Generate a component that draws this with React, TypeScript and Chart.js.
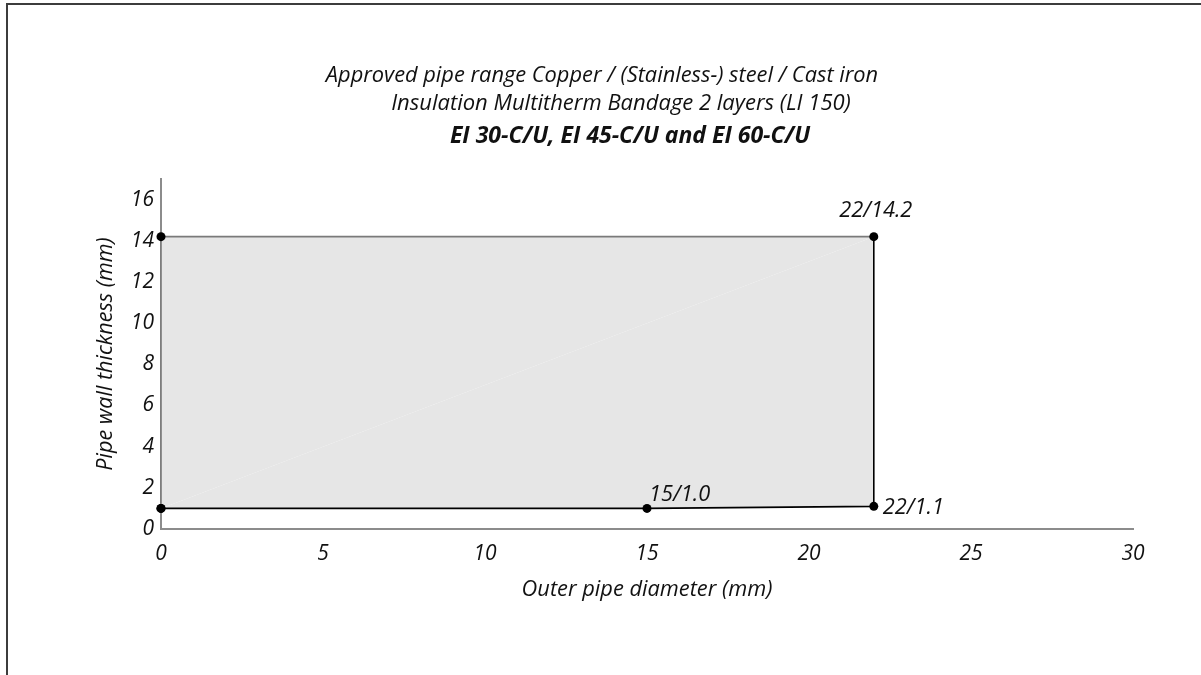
import React, { useEffect, useRef } from 'react';
import { Chart, registerables } from 'chart.js';

Chart.register(...registerables);

const titleLines = [
  'Approved pipe range Copper / (Stainless-) steel / Cast iron',
  'Insulation Multitherm Bandage 2 layers (LI 150)',
  'EI 30-C/U, EI 45-C/U and EI 60-C/U',
];
const xTitle = 'Outer pipe diameter (mm)';
const yTitle = 'Pipe wall thickness (mm)';

// approved range polygon (outer diameter mm / wall thickness mm)
const rangeX = [0, 15, 22, 22, 0, 0];
const rangeY = [1.0, 1.0, 1.1, 14.2, 14.2, 1.0];
const pointLabels = ['', '15/1.0', '22/1.1', '22/14.2', '', ''];

const xTicks = [0, 5, 10, 15, 20, 25, 30];
const yTicks = [0, 2, 4, 6, 8, 10, 12, 14, 16];

const FONT = '"Open Sans", "Noto Sans", sans-serif';
const TEXT = '#111111';

const overlayPlugin = {
  id: 'overlay',
  afterDraw(chart: any) {
    const { ctx, chartArea, scales } = chart;
    const xs = scales.x;
    const ys = scales.y;
    ctx.save();
    ctx.fillStyle = TEXT;
    ctx.textBaseline = 'middle';
    ctx.textAlign = 'center';
    // titles
    const titleFonts = [
      `italic 400 21.8px ${FONT}`,
      `italic 400 22px ${FONT}`,
      `italic 700 23px ${FONT}`,
    ];
    const titleX = [602, 621, 630];
    const titleY = [76, 104, 136];
    titleLines.forEach((t, i) => {
      ctx.font = titleFonts[i];
      ctx.fillText(t, titleX[i], titleY[i]);
    });
    // axis titles
    ctx.font = `italic 400 21.8px ${FONT}`;
    ctx.fillText(xTitle, (chartArea.left + chartArea.right) / 2, 590);
    ctx.save();
    ctx.translate(106, (chartArea.top + chartArea.bottom) / 2);
    ctx.rotate(-Math.PI / 2);
    ctx.font = `italic 400 21.6px ${FONT}`;
    ctx.fillText(yTitle, 0, 0);
    ctx.restore();
    // point labels
    ctx.font = `italic 400 21.8px ${FONT}`;
    pointLabels.forEach((lab, i) => {
      if (!lab) return;
      const px = xs.getPixelForValue(rangeX[i]);
      const py = ys.getPixelForValue(rangeY[i]);
      if (i === 1) {
        ctx.textAlign = 'left';
        ctx.fillText(lab, px + 2, py - 14);
      } else if (i === 2) {
        ctx.textAlign = 'left';
        ctx.fillText(lab, px + 9, py + 1);
      } else {
        ctx.textAlign = 'center';
        ctx.fillText(lab, px + 2, py - 26);
      }
    });
    ctx.restore();
  },
};

export default function App() {
  const ref = useRef<HTMLCanvasElement | null>(null);
  useEffect(() => {
    if (!ref.current) return;
    const chart = new Chart(ref.current, {
      type: 'scatter',
      data: {
        datasets: [
          {
            data: rangeX.map((x, i) => ({ x, y: rangeY[i] })),
            showLine: true,
            fill: 'shape',
            backgroundColor: '#e6e6e6',
            borderColor: '#000',
            borderWidth: 1.6,
            pointRadius: 4.5,
            pointHoverRadius: 4.5,
            pointBackgroundColor: '#000',
            pointBorderColor: '#000',
            pointBorderWidth: 0,
            clip: false,
            tension: 0,
            segment: {
              borderColor: (c: any) => (c.p0DataIndex >= 3 ? '#7a7a7a' : '#000'),
            },
          } as any,
        ],
      },
      options: {
        responsive: false,
        animation: false,
        events: [],
        layout: { padding: { left: 0, top: 179, right: 68, bottom: 0 } },
        plugins: {
          legend: { display: false },
          tooltip: { enabled: false },
          title: { display: false },
        },
        scales: {
          x: {
            type: 'linear',
            min: 0,
            max: 30,
            afterBuildTicks: (s: any) => {
              s.ticks = xTicks.map((v) => ({ value: v }));
            },
            afterFit: (s: any) => {
              s.height = 146;
            },
            grid: { display: false, drawTicks: false },
            border: { display: true, color: '#8c8c8c', width: 2 },
            ticks: {
              padding: 12,
              color: TEXT,
              font: { family: FONT, size: 21, style: 'italic' },
            },
          },
          y: {
            type: 'linear',
            min: 0,
            max: 17,
            afterBuildTicks: (s: any) => {
              s.ticks = yTicks.map((v) => ({ value: v }));
            },
            afterFit: (s: any) => {
              s.width = 161;
            },
            grid: { display: false, drawTicks: false },
            border: { display: true, color: '#8c8c8c', width: 2 },
            ticks: {
              padding: 7,
              color: TEXT,
              font: { family: FONT, size: 21, style: 'italic' },
            },
          },
        },
      },
      plugins: [overlayPlugin],
    });
    return () => chart.destroy();
  }, []);

  return (
    <div style={{ position: 'absolute', left: 0, top: 0, width: 1201, height: 675, background: '#fff', overflow: 'hidden' }}>
      <div
        style={{
          position: 'absolute',
          left: 6,
          top: 3,
          width: 1300,
          height: 800,
          borderLeft: '2px solid #3c3c3c',
          borderTop: '2px solid #3c3c3c',
        }}
      />
      <canvas ref={ref} width={1201} height={675} style={{ position: 'absolute', left: 0, top: 0, display: 'block' }} />
    </div>
  );
}
